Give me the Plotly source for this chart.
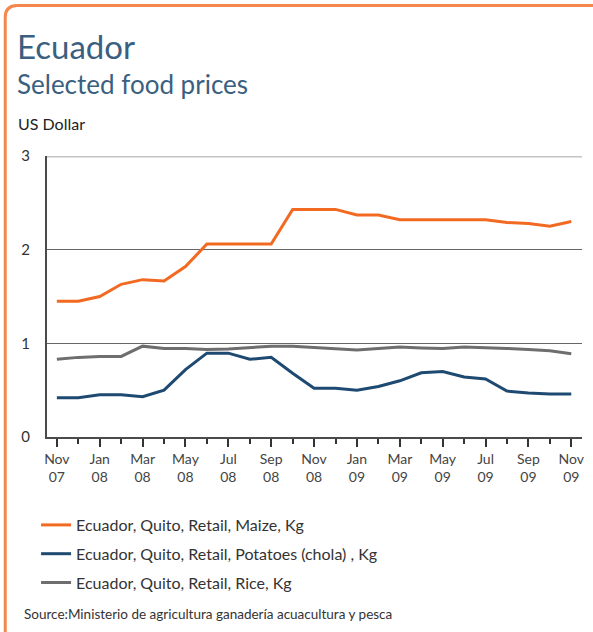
import plotly.graph_objects as go

# Monthly retail prices, Quito (US$ per kg), Nov 2007 - Nov 2009
months = list(range(25))
tick_positions = list(range(0, 25, 2))
tick_labels = ["Nov<br>07", "Jan<br>08", "Mar<br>08", "May<br>08", "Jul<br>08", "Sep<br>08",
               "Nov<br>08", "Jan<br>09", "Mar<br>09", "May<br>09", "Jul<br>09", "Sep<br>09",
               "Nov<br>09"]

maize = [1.45, 1.45, 1.50, 1.63, 1.68, 1.665, 1.82, 2.06, 2.06, 2.06, 2.06, 2.43, 2.43,
         2.43, 2.37, 2.37, 2.32, 2.32, 2.32, 2.32, 2.32, 2.29, 2.28, 2.25, 2.30]
potatoes = [0.42, 0.42, 0.45, 0.45, 0.43, 0.50, 0.72, 0.895, 0.895, 0.83, 0.85, 0.68, 0.52,
            0.52, 0.50, 0.54, 0.60, 0.685, 0.70, 0.64, 0.62, 0.49, 0.47, 0.46, 0.46]
rice = [0.83, 0.85, 0.86, 0.86, 0.97, 0.945, 0.945, 0.935, 0.94, 0.955, 0.97, 0.97, 0.955,
        0.945, 0.93, 0.945, 0.96, 0.95, 0.945, 0.96, 0.955, 0.945, 0.935, 0.92, 0.89]

series = [
    ("Ecuador, Quito, Retail, Maize, Kg", maize, "#F26A21"),
    ("Ecuador, Quito, Retail, Potatoes (chola) , Kg", potatoes, "#1E4A72"),
    ("Ecuador, Quito, Retail, Rice, Kg", rice, "#6E6E6E"),
]

W, H = 593, 632
L, R, T, B = 47, 8, 156, 195
PW, PH = W - L - R, H - T - B
FONT = "Lato"


def px_x(px):
    return (px - L) / PW


def px_y(py):
    return (H - B - py) / PH


fig = go.Figure()
for i, (name, vals, color) in enumerate(series):
    fig.add_trace(go.Scatter(x=months, y=vals, mode="lines", name=name,
                             legendgroup=str(i),
                             line=dict(color=color, width=3)))

fig.update_layout(
    width=W, height=H,
    margin=dict(l=L, r=R, t=T, b=B),
    paper_bgcolor="white", plot_bgcolor="white",
    font=dict(family=FONT, color="#333333"),
    showlegend=True,
    legend=dict(orientation="v", x=px_x(36), xanchor="left", y=px_y(508), yanchor="top",
                font=dict(size=16, color="#333333"), tracegroupgap=5,
                bgcolor="rgba(0,0,0,0)"),
    xaxis=dict(range=[-0.46, 24.5], tickmode="array", tickvals=tick_positions,
               ticktext=tick_labels, ticks="outside", ticklen=8, tickwidth=2,
               tickcolor="#333333", showgrid=False, zeroline=False,
               showline=True, linecolor="#4a4a4a", linewidth=2,
               tickfont=dict(size=14, color="#444444"),
               minor=dict(tickmode="linear", tick0=0, dtick=1, ticks="outside",
                          ticklen=5, tickwidth=2, tickcolor="#333333", showgrid=False)),
    yaxis=dict(range=[0, 3], tickmode="array", tickvals=[0, 1, 2, 3],
               showgrid=True, gridcolor="#666666", gridwidth=1.3, zeroline=False,
               showline=True, linecolor="#4a4a4a", linewidth=2, ticks="",
               ticklabelstandoff=12, tickfont=dict(size=15, color="#333333")),
)

# light top rule at the 3-dollar level
fig.add_shape(type="line", xref="paper", yref="y", x0=0, x1=1, y0=3, y1=3,
              line=dict(color="#c4c4c4", width=3), layer="above")

# frame: left and top borders with a rounded corner
r = 12
fig.add_shape(type="path", xref="paper", yref="paper",
              path=(f"M {px_x(5)},{px_y(H + 10)} L {px_x(5)},{px_y(5.5 + r)} "
                    f"Q {px_x(5)},{px_y(5.5)} {px_x(5 + r)},{px_y(5.5)} L {px_x(W + 10)},{px_y(5.5)}"),
              line=dict(color="#F4874B", width=3))

fig.add_annotation(text="Ecuador", xref="paper", yref="paper", x=px_x(15), y=px_y(24),
                   xanchor="left", yanchor="top", showarrow=False,
                   font=dict(family=FONT, size=33, color="#3B5F80"))
fig.add_annotation(text="Selected food prices", xref="paper", yref="paper",
                   x=px_x(15), y=px_y(66), xanchor="left", yanchor="top", showarrow=False,
                   font=dict(family=FONT, size=26, color="#3B5F80"))
fig.add_annotation(text="US Dollar", xref="paper", yref="paper", x=px_x(16), y=px_y(112),
                   xanchor="left", yanchor="top", showarrow=False,
                   font=dict(family=FONT, size=16, color="#222222"))
fig.add_annotation(text="Source:Ministerio de agricultura ganadería acuacultura y pesca",
                   xref="paper", yref="paper", x=px_x(22), y=px_y(604),
                   xanchor="left", yanchor="top", showarrow=False,
                   font=dict(family=FONT, size=13.5, color="#333333"))

fig.write_html("out.html")
